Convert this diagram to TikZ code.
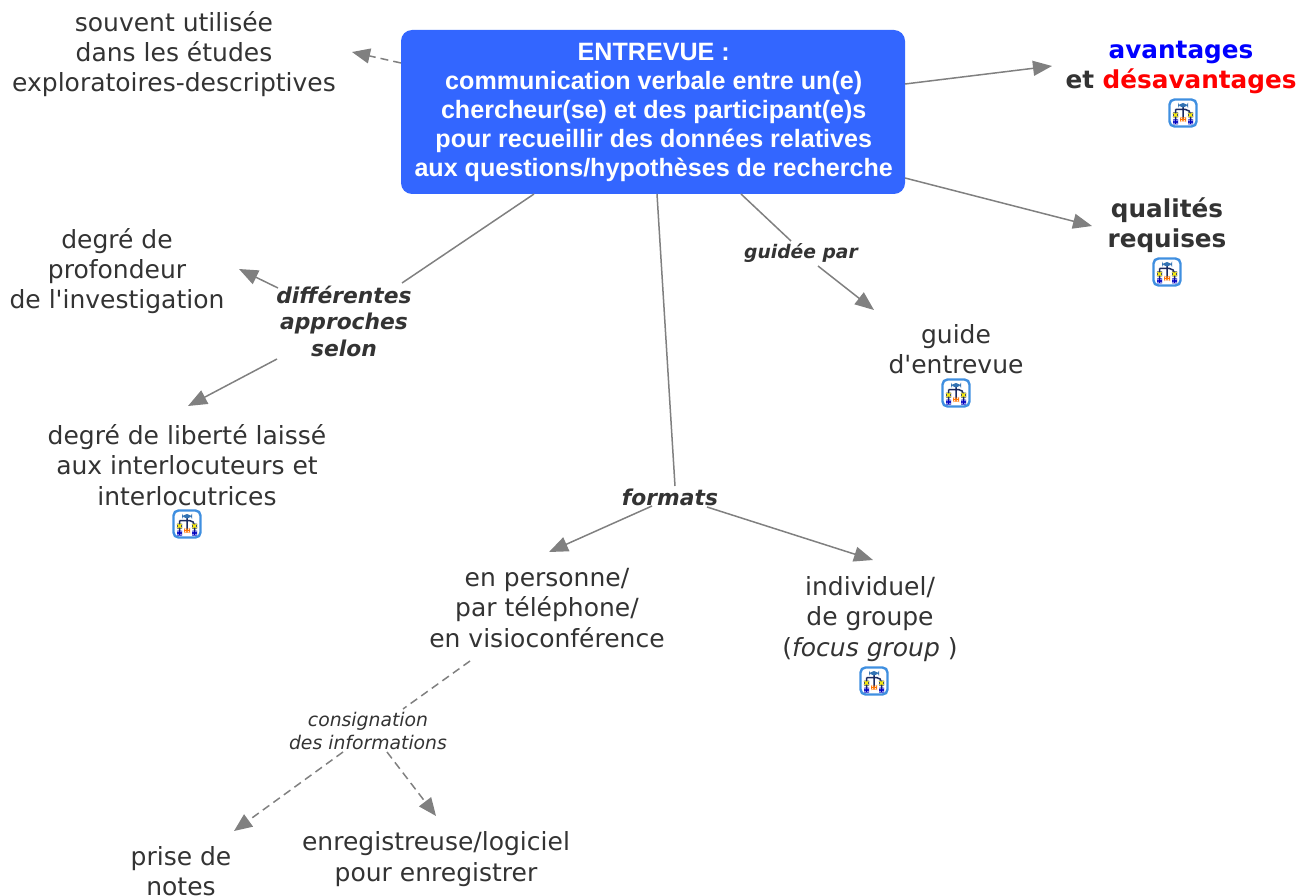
\documentclass[tikz,border=0pt]{standalone}
\usepackage{fontspec}
\setmainfont{DejaVu Sans}
\newfontfamily\djv{DejaVu Sans}
\newfontfamily\boxfont{Liberation Sans}
\usetikzlibrary{arrows.meta}
\definecolor{ink}{HTML}{333333}
\definecolor{linegray}{HTML}{808080}
\definecolor{boxblue}{HTML}{3366FF}
\definecolor{iconblue}{HTML}{3F8FE0}
\definecolor{icondark}{HTML}{1A2A60}
\tikzset{
  concept/.style={inner sep=0pt,align=center,text=ink,font=\djv\fontsize{25}{30.3}\selectfont},
  boldconcept/.style={concept,font=\djv\fontsize{24.7}{30}\selectfont\bfseries},
  linkbig/.style={inner sep=0pt,align=center,text=ink,font=\djv\fontsize{21.8}{26.5}\selectfont\bfseries\itshape},
  linksmall/.style={inner sep=0pt,align=center,text=ink,font=\djv\fontsize{18.7}{23}\selectfont\bfseries\itshape},
  linkplain/.style={inner sep=0pt,align=center,text=ink,font=\djv\fontsize{18.8}{23}\selectfont\itshape},
  mainbox/.style={fill=boxblue,rounded corners=11pt,minimum width=504pt,minimum height=164pt,inner sep=0pt,align=center,text=white,font=\boxfont\fontsize{25.1}{29}\selectfont\bfseries},
  conn/.style={draw=linegray,line width=1.5pt},
  arrowconn/.style={conn,-{Triangle[length=19pt,width=15pt,fill=linegray]}},
  dashconn/.style={draw=linegray,line width=1.5pt,dash pattern=on 8pt off 5pt},
  dasharrow/.style={dashconn,-{Triangle[length=18pt,width=15pt,fill=linegray]}},
  iconnode/.style={minimum size=27pt,inner sep=0pt,rounded corners=5pt,draw=iconblue,line width=2.4pt,fill=white,
    path picture={
      \draw[icondark,line width=1.5pt] ([shift={(0,-7)}]path picture bounding box.center) -- ++(0,13)
        ([shift={(-7.5,-3.5)}]path picture bounding box.center) -- ++(15,0) -- ++(0,11)
        ([shift={(-7.5,-3.5)}]path picture bounding box.center) -- ++(0,11);
      \fill[iconblue!80!black] ([shift={(-5,-10)}]path picture bounding box.center) rectangle ++(10,4.5);
      \fill[icondark] ([shift={(-10,-0.5)}]path picture bounding box.center) rectangle ++(5,5);
      \fill[icondark] ([shift={(5,-0.5)}]path picture bounding box.center) rectangle ++(5,5);
      \fill[yellow!95!black] ([shift={(-9.2,0.3)}]path picture bounding box.center) rectangle ++(3.4,3.4);
      \fill[yellow!95!black] ([shift={(5.8,0.3)}]path picture bounding box.center) rectangle ++(3.4,3.4);
      \fill[orange!90!red] ([shift={(-3,4.5)}]path picture bounding box.center) rectangle ++(6,4);
      \fill[blue!75!black] ([shift={(-10,6.5)}]path picture bounding box.center) rectangle ++(5,5);
      \fill[blue!75!black] ([shift={(5,6.5)}]path picture bounding box.center) rectangle ++(5,5);
    }},
}
\begin{document}
\begin{tikzpicture}[x=1pt,y=-1pt]
\useasboundingbox (0,0) rectangle (1310,896);
\node[mainbox] (box) at (653,112) {\hspace{1.5pt}ENTREVUE :\\\hspace{1.5pt}communication verbale entre un(e)\\\hspace{1.5pt}chercheur(se) et des participant(e)s\\\hspace{1.5pt}pour recueillir des données relatives\\\hspace{1.5pt}aux questions/hypothèses de recherche};
\node[concept] (souvent) at (174,54) {souvent utilisée\\dans les études\\exploratoires-descriptives};
\node[boldconcept] (avantages) at (1181,67) {\textcolor{blue}{avantages}\\et \textcolor{red}{désavantages}};
\node[iconnode] (icona) at (1183,113) {};
\node[boldconcept] (qualites) at (1167,225) {qualités\\requises};
\node[iconnode] (iconq) at (1167,272) {};
\node[concept] (guide) at (956,349) {guide\\d'entrevue};
\node[iconnode] (icong) at (956,393) {};
\node[concept] (profondeur) at (117,271) {degré de\\profondeur\\de l'investigation};
\node[linkbig] (approches) at (344,321) {différentes\\approches\\selon};
\node[concept] (liberte) at (187,465) {degré de liberté laissé\\aux interlocuteurs et\\interlocutrices};
\node[iconnode] (iconl) at (187,524) {};
\node[linkbig] (formats) at (670,497) {formats};
\node[linksmall] (guidee) at (801,253) {guidée par};
\node[concept] (personne) at (547,608) {en personne/\\par téléphone/\\en visioconférence};
\node[concept] (individuel) at (870,619) {individuel/\\de groupe\\(\textit{focus group} )};
\node[iconnode] (iconi) at (874,681) {};
\node[linkplain] (consign) at (368,731) {consignation\\des informations};
\node[concept] (prise) at (181,871) {prise de\\notes};
\node[concept] (enreg) at (436,859) {enregistreuse/logiciel\\pour enregistrer};

\draw[dasharrow] ([shift={(-252,-49)}]box.center) -- ([shift={(178,-2)}]souvent.center);
\draw[arrowconn] ([shift={(252,-28)}]box.center) -- ([shift={(-129,-1)}]avantages.center);
\draw[arrowconn] ([shift={(252,66)}]box.center) -- ([shift={(-75,1)}]qualites.center);
\draw[conn] ([shift={(88,82)}]box.center) -- ([shift={(-10,-12)}]guidee.center);
\draw[arrowconn] ([shift={(17,13)}]guidee.center) -- ([shift={(-82,-39)}]guide.center);
\draw[conn] ([shift={(4,82)}]box.center) -- ([shift={(5,-11)}]formats.center);
\draw[arrowconn] ([shift={(-18,9)}]formats.center) -- ([shift={(2,-56)}]personne.center);
\draw[arrowconn] ([shift={(37,10)}]formats.center) -- ([shift={(3,-59)}]individuel.center);
\draw[conn] ([shift={(-119,82)}]box.center) -- ([shift={(58,-38)}]approches.center);
\draw[arrowconn] ([shift={(-66,-33)}]approches.center) -- ([shift={(122,-2)}]profondeur.center);
\draw[arrowconn] ([shift={(-67,38)}]approches.center) -- ([shift={(1,-59)}]liberte.center);
\draw[dashconn] ([shift={(-77,53)}]personne.center) -- ([shift={(35,-22)}]consign.center);
\draw[dasharrow] ([shift={(-25,21)}]consign.center) -- ([shift={(53,-40)}]prise.center);
\draw[dasharrow] ([shift={(19,21)}]consign.center) -- ([shift={(0,-43)}]enreg.center);
\end{tikzpicture}
\end{document}
